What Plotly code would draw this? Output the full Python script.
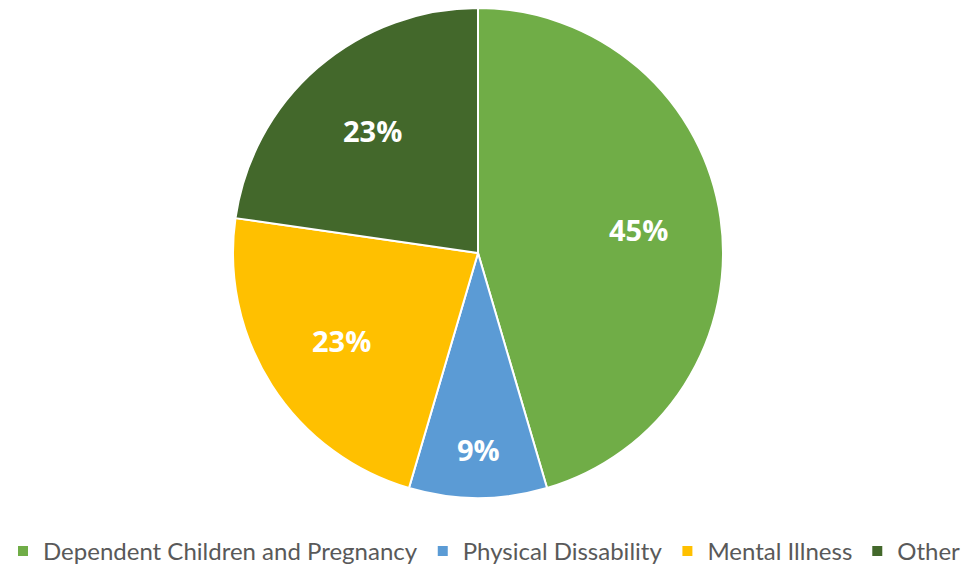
import math
import plotly.graph_objects as go

categories = ["Dependent Children and Pregnancy", "Physical Dissability", "Mental Illness", "Other"]
values = [20, 4, 10, 10]
colors = ["#70AD47", "#5B9BD5", "#FFC000", "#43682B"]

W, H = 969, 566
cx, cy, r = 478, 253, 245
# radial placement of each percent label, as a fraction of the radius (Excel best-fit look)
label_radius = [0.66, 0.80, 0.66, 0.66]

fig = go.Figure(go.Pie(
    labels=categories,
    values=values,
    sort=False,
    direction="clockwise",
    rotation=0,
    marker=dict(colors=colors, line=dict(color="white", width=2)),
    textinfo="none",
    domain=dict(x=[(cx - r) / W, (cx + r) / W], y=[(H - cy - r) / H, (H - cy + r) / H]),
    hoverinfo="label+percent",
))

total = sum(values)
cum = 0.0
for v, rf in zip(values, label_radius):
    mid = (cum + v / 2) / total * 2 * math.pi
    cum += v
    px = cx + rf * r * math.sin(mid)
    py = cy - rf * r * math.cos(mid)
    fig.add_annotation(
        x=px / W, y=1 - py / H, xref="paper", yref="paper",
        text="<b>%d%%</b>" % round(v / total * 100),
        showarrow=False, xanchor="center", yanchor="middle",
        font=dict(family="Open Sans", size=29, color="white"),
    )

fig.update_layout(
    width=W, height=H,
    margin=dict(l=0, r=0, t=0, b=0, autoexpand=False),
    paper_bgcolor="white",
    showlegend=True,
    legend=dict(
        orientation="h", x=0.5, xanchor="center", y=-0.014, yanchor="bottom",
        font=dict(family="Lato", size=24, color="#595959"),
        itemwidth=30, traceorder="normal",
    ),
)

fig.write_html("out.html")
